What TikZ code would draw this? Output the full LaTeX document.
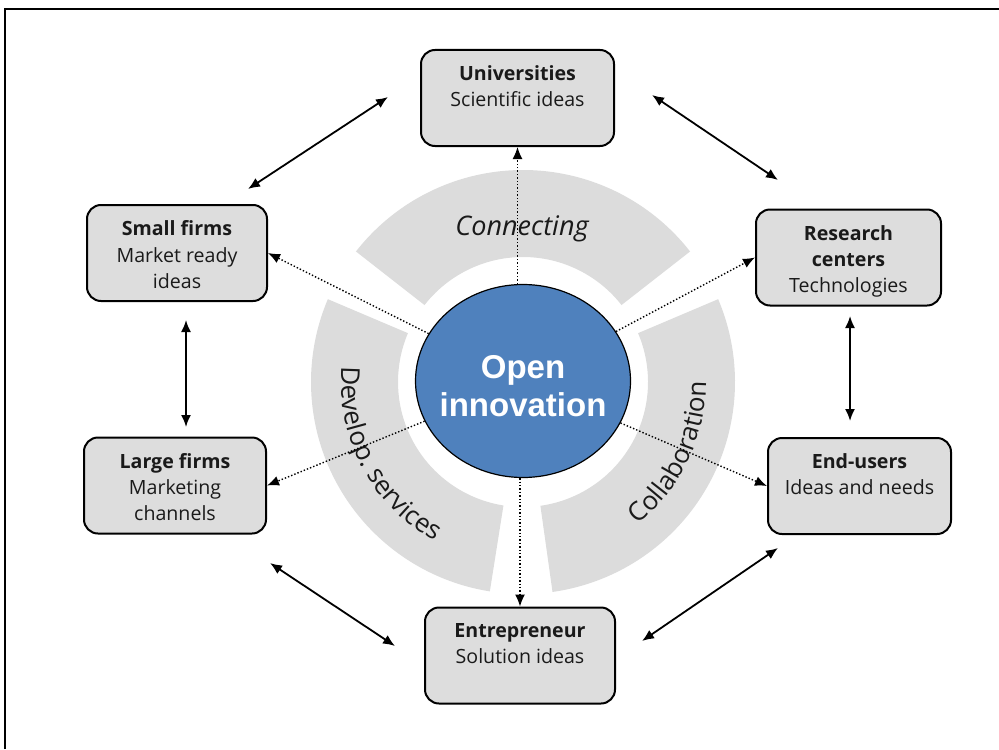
\documentclass[tikz,border=0pt]{standalone}
\usepackage{fontspec}
\setmainfont{Open Sans}
\newfontfamily\arialfont{Liberation Sans}
\usetikzlibrary{arrows.meta,decorations.text,shapes.geometric}
\definecolor{boxgray}{HTML}{DDDDDD}
\definecolor{ringgray}{HTML}{DCDCDC}
\definecolor{oiblue}{HTML}{4F81BD}
\definecolor{inkgray}{HTML}{1A1A1A}
\newcommand{\boxtext}[2]{\parbox[c][32pt][t]{90pt}{\centering\textbf{#1}\\#2}}
\tikzset{
  actor/.style={draw, line width=1pt, rounded corners=7pt, fill=boxgray, minimum height=48pt,
    inner sep=0pt, text=inkgray, font=\fontsize{9.8}{13}\selectfont},
  link/.style={densely dotted, line width=0.7pt, -{Latex[length=6pt,width=5pt]}},
  peer/.style={line width=0.9pt, {Latex[length=6pt,width=5pt]}-{Latex[length=6pt,width=5pt]}}
}
\begin{document}
\begin{tikzpicture}[x=0.5pt,y=-0.5pt]
  \useasboundingbox (0,0) rectangle (999,749);
  \draw[line width=0.8pt] (5,749) -- (5,9) -- (999,9);
  % ring of services
  \begin{scope}[shift={(523,382)}]
    \fill[ringgray] (-38:212) arc[start angle=-38, end angle=-142, radius=212]
      -- (-142:125) arc[start angle=-142, end angle=-38, radius=125] -- cycle;
    \fill[ringgray] (-157:212) arc[start angle=-157, end angle=-261, radius=212]
      -- (-261:125) arc[start angle=-261, end angle=-157, radius=125] -- cycle;
    \fill[ringgray] (82:212) arc[start angle=82, end angle=-23, radius=212]
      -- (-23:125) arc[start angle=-23, end angle=82, radius=125] -- cycle;
    \path[decorate, decoration={text along path, text align=center,
      text={|\fontsize{13}{15}\selectfont\color{inkgray}|Develop. services}}]
      (-150:182) arc[start angle=-150, end angle=-266, radius=182];
    \path[decorate, decoration={text along path, text align=center,
      text={|\fontsize{13}{15}\selectfont\color{inkgray}|Collaboration}}]
      (80:183) arc[start angle=80, end angle=-29, radius=183];
  \end{scope}
  \node[text=inkgray, font=\itshape\fontsize{13.5}{15}\selectfont] (con) at (522,229) {Connecting};

  % actors
  \node[actor, minimum width=96.5pt] (uni) at (517.5,98) {\boxtext{Universities}{Scientific ideas}};
  \node[actor, minimum width=90pt] (sf) at (177,253) {\boxtext{Small firms}{Market ready\\ideas}};
  \node[actor, minimum width=92.5pt] (rc) at (848.5,257.5) {\boxtext{Research\\centers}{Technologies}};
  \node[actor, minimum width=91pt] (lf) at (175,485.5) {\boxtext{Large firms}{Marketing\\channels}};
  \node[actor, minimum width=91.5pt] (eu) at (859.5,486) {\boxtext{End-users}{Ideas and needs}};
  \node[actor, minimum width=95pt] (ent) at (520,655.5) {\boxtext{Entrepreneur}{Solution ideas}};

  \node[ellipse, draw, line width=0.6pt, fill=oiblue, minimum width=107.5pt, minimum height=96.5pt,
    inner sep=0pt] (oi) at (523,381) {};
  \node[align=center, text=white, font=\arialfont\bfseries\fontsize{16.5}{19}\selectfont]
    (oitxt) at ([yshift=-2.5pt]oi.center) {Open\\innovation};

  % links from the centre
  \draw[link] (uni.south |- oi.north) -- (uni.south);
  \draw[link] (ent.north |- oi.south) -- (ent.north);
  \draw[link] (oi) -- (sf.east);
  \draw[link] (oi) -- (rc.west);
  \draw[link] (oi) -- (lf.east);
  \draw[link] (oi) -- (eu.west);

  % links between actors
  \coordinate (us1) at (388,97);  \coordinate (us2) at (248,189);
  \coordinate (ur1) at (652,95);  \coordinate (ur2) at (778,180);
  \coordinate (sl1) at (186,320); \coordinate (sl2) at (186,427);
  \coordinate (re1) at (850,316); \coordinate (re2) at (850,421);
  \coordinate (le1) at (270,563); \coordinate (le2) at (395,646);
  \coordinate (ee1) at (778,548); \coordinate (ee2) at (642,641);
  \draw[peer] (us1) -- (us2);
  \draw[peer] (ur1) -- (ur2);
  \draw[peer] (sl1) -- (sl2);
  \draw[peer] (re1) -- (re2);
  \draw[peer] (le1) -- (le2);
  \draw[peer] (ee1) -- (ee2);
\end{tikzpicture}
\end{document}
